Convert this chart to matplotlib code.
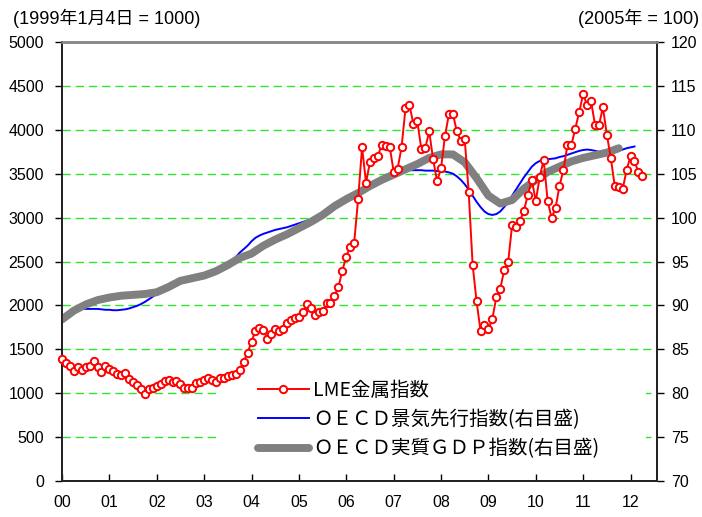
import numpy as np
import matplotlib.pyplot as plt
from matplotlib.lines import Line2D
from matplotlib.patches import Rectangle

plt.rcParams['font.family'] = ['Liberation Sans', 'Noto Sans CJK JP']

# LME metal index, monthly, Jan 2000 - Apr 2012 (1999/1/4 = 1000)
lme = [1386, 1347, 1310, 1256, 1302, 1264, 1302, 1310, 1370, 1294, 1241, 1310,
       1272, 1256, 1218, 1203, 1233, 1165, 1127, 1089, 1051, 991, 1048, 1063,
       1085, 1108, 1139, 1147, 1124, 1139, 1108, 1056, 1056, 1063, 1116, 1131,
       1154, 1177, 1154, 1124, 1170, 1177, 1192, 1207, 1222, 1268, 1359, 1460,
       1587, 1712, 1743, 1720, 1621, 1674, 1727, 1712, 1735, 1803, 1834, 1856,
       1864, 1925, 2016, 1970, 1887, 1925, 1932, 2024, 2031, 2107, 2206, 2395,
       2555, 2669, 2714, 3208, 3801, 3398, 3633, 3679, 3702, 3830, 3815, 3808,
       3523, 3557, 3801, 4245, 4282, 4066, 4097, 3785, 3789, 3983, 3664, 3413,
       3565, 3929, 4180, 4180, 3983, 3876, 3891, 3295, 2464, 2046, 1712, 1773,
       1727, 1848, 2092, 2190, 2403, 2494, 2912, 2889, 2965, 3079, 3261, 3428,
       3185, 3466, 3656, 3193, 2995, 3109, 3360, 3542, 3823, 3823, 4013, 4203,
       4408, 4279, 4325, 4058, 4051, 4256, 3944, 3679, 3360, 3352, 3322, 3542,
       3702, 3641, 3519, 3474]

# OECD composite leading indicator, monthly, Jan 2000 - Feb 2012 (right axis)
cli = [88.6, 88.9, 89.2, 89.4, 89.5, 89.6, 89.6, 89.6, 89.6, 89.6, 89.55, 89.5,
       89.5, 89.45, 89.45, 89.5, 89.55, 89.65, 89.8, 89.95, 90.15, 90.4, 90.7, 91.0,
       91.3, 91.5, 91.8, 92.1, 92.4, 92.6, 92.8, 92.9, 93.0, 93.1, 93.2, 93.3,
       93.4, 93.55, 93.7, 93.9, 94.1, 94.4, 94.7, 95.1, 95.5, 96.0, 96.4, 96.8,
       97.3, 97.7, 97.95, 98.15, 98.3, 98.45, 98.6, 98.7, 98.8, 98.9, 99.05, 99.2,
       99.35, 99.5, 99.65, 99.8, 100.0, 100.2, 100.45, 100.7, 101.0, 101.3, 101.6, 101.9,
       102.2, 102.45, 102.7, 102.95, 103.2, 103.45, 103.7, 103.9, 104.15, 104.4, 104.6, 104.8,
       105.0, 105.15, 105.3, 105.35, 105.4, 105.4, 105.4, 105.4, 105.35, 105.35, 105.35, 105.3,
       105.3, 105.25, 105.15, 105.0, 104.7, 104.3, 103.8, 103.2, 102.5, 101.8, 101.2, 100.7,
       100.4, 100.3, 100.4, 100.7, 101.2, 101.8, 102.5, 103.2, 103.9, 104.6, 105.2, 105.8,
       106.2, 106.45, 106.6, 106.65, 106.7, 106.75, 106.9, 107.0, 107.15, 107.3, 107.45, 107.6,
       107.7, 107.75, 107.7, 107.6, 107.5, 107.4, 107.4, 107.4, 107.45, 107.6, 107.75, 107.9,
       108.0, 108.1]

# OECD real GDP index, quarterly, 2000Q1 - 2011Q4 (2005 = 100, right axis)
gdp = [88.4, 89.4, 90.1, 90.6,
       90.9, 91.1, 91.2, 91.3,
       91.5, 92.1, 92.8, 93.1,
       93.4, 93.9, 94.6, 95.4,
       95.9, 96.8, 97.5, 98.1,
       98.8, 99.5, 100.3, 101.3,
       102.1, 102.8, 103.6, 104.3,
       104.9, 105.5, 106.1, 106.8,
       107.2, 107.2, 106.3, 104.5,
       102.5, 101.6, 102.0, 103.3,
       104.3, 105.2, 105.8, 106.4,
       106.8, 107.1, 107.4, 107.9]

year_labels = ['00', '01', '02', '03', '04', '05', '06', '07', '08', '09', '10', '11', '12']
labels = ['LME金属指数', 'ＯＥＣＤ景気先行指数(右目盛)', 'ＯＥＣＤ実質ＧＤＰ指数(右目盛)']

x_lme = np.arange(len(lme))
x_cli = np.arange(len(cli))
x_gdp = np.arange(len(gdp)) * 3

fig = plt.figure(figsize=(7.02, 5.17), dpi=100)
ax = fig.add_axes([62/702, 36/517, 595/702, 439/517])
ax2 = ax.twinx()

# right axis series underneath, red on top
ax.set_zorder(ax2.get_zorder() + 1)
ax.patch.set_visible(False)

ax2.plot(x_cli, cli, color='#0000ff', lw=1.4, zorder=2)
ax2.plot(x_gdp, gdp, color='#808080', lw=5.7, solid_capstyle='round', zorder=3)
ax.plot(x_lme, lme, color='#ff0000', lw=1.4, marker='o', ms=5.3, mfc='white',
        mec='#ff0000', mew=1.4, clip_on=False, zorder=4)

ax.set_xlim(0, 150.7)
ax.set_ylim(0, 5000)
ax2.set_ylim(70, 120)
ax.set_yticks(np.arange(0, 5001, 500))
ax2.set_yticks(np.arange(70, 121, 5))
ax.set_xticks(np.arange(0, 145, 12))
ax.set_xticklabels(year_labels)

ax2.set_axisbelow(True)
ax2.yaxis.grid(True, color='#2ee62e', lw=1, linestyle=(0, (6, 3.5)))

fs = 11.5
ax.tick_params(axis='y', direction='out', length=5, width=1, labelsize=fs, pad=8)
ax.tick_params(axis='x', direction='in', length=5, width=1, labelsize=fs, pad=10)
ax2.tick_params(axis='y', direction='out', length=5, width=1, labelsize=fs, pad=5)

for a in (ax, ax2):
    for s in a.spines.values():
        s.set_linewidth(1.3)
        s.set_color('#222222')
    a.spines['top'].set_color('#888888')
    a.spines['top'].set_linewidth(1.8)

# white legend background
ax2.add_patch(Rectangle((0.262, 0.025), 0.72, 0.19, transform=ax2.transAxes,
                        facecolor='white', edgecolor='none', zorder=1.5))

handles = [
    Line2D([], [], color='#ff0000', lw=1.4, marker='o', ms=5.3, mfc='white', mew=1.4),
    Line2D([], [], color='#0000ff', lw=1.4),
    Line2D([], [], color='#808080', lw=5.7, solid_capstyle='round'),
]
leg = ax.legend(handles, labels, loc='upper left', bbox_to_anchor=(258/702, 1 - 380/517),
                bbox_transform=fig.transFigure, frameon=False,
                prop={'family': ['Noto Sans CJK JP'], 'size': 14},
                handlelength=2.6, handletextpad=0.25, labelspacing=0.42,
                borderpad=0, borderaxespad=0, numpoints=1)

fig.text(13/702, 1 - 18/517, '(1999年1月4日 = 1000)', ha='left', va='center', fontsize=13)
fig.text(699/702, 1 - 18/517, '(2005年 = 100)', ha='right', va='center', fontsize=13)

fig.savefig('out.png', dpi=100)
